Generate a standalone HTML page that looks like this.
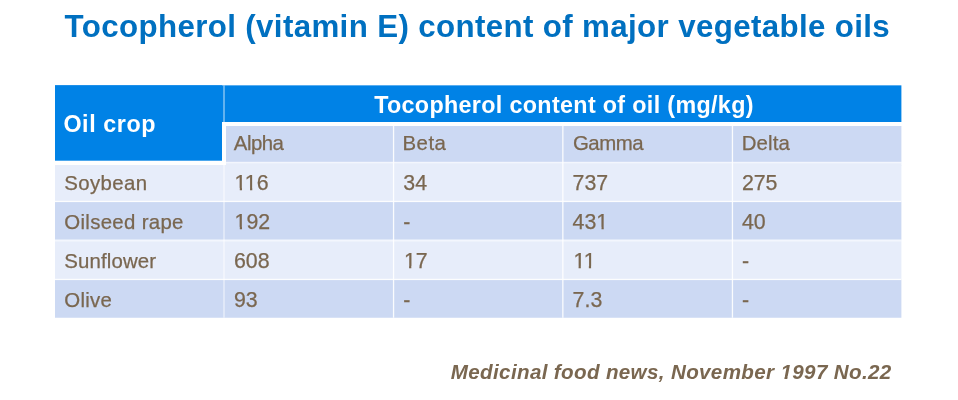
<!DOCTYPE html>
<html lang="en">
<head>
<meta charset="utf-8">
<title>Tocopherol (vitamin E) content of major vegetable oils</title>
<style>
html,body{margin:0;padding:0;background:#fff;}
body{width:958px;height:400px;position:relative;overflow:hidden;font-family:"Liberation Sans",Arial,sans-serif;}
#slide{position:absolute;left:0;top:0;width:958px;height:400px;will-change:transform;}
h1{position:absolute;left:0;top:0;margin:0;font-weight:bold;font-size:31.3px;letter-spacing:.356px;line-height:36px;color:#0070c0;white-space:nowrap;}
.t{position:absolute;white-space:nowrap;font-size:21.33px;line-height:24px;color:#7a6750;transform-origin:0 0;-webkit-text-stroke:.25px #7a6750;}
.w{font-size:20.4px;}
.th{position:absolute;white-space:nowrap;font-size:23.3px;line-height:28px;transform-origin:0 0;color:#fff;font-weight:bold;}
.foot{position:absolute;white-space:nowrap;font-size:20.6px;letter-spacing:.347px;line-height:24px;font-weight:bold;font-style:italic;color:#7a6750;}
</style>
</head>
<body>
<div id="slide">
<h1 style="top:8.5px;left:64.62px">Tocopherol (vitamin E) content of major vegetable oils</h1>

<!-- table backgrounds + grid lines -->
<svg class="grid" width="958" height="400" viewBox="0 0 958 400" style="position:absolute;left:0;top:0">
  <rect x="55" y="85.35" width="846.4" height="36.65" fill="#0082e6"/>
  <rect x="55" y="85.35" width="167" height="75.35" fill="#0082e6"/>
  <rect x="226" y="126" width="675.4" height="35.9" fill="#ccd9f3"/>
  <rect x="226" y="161.9" width="675.4" height="4" fill="#e7edfa"/>
  <rect x="55" y="165" width="846.4" height="36.4" fill="#e7edfa"/>
  <rect x="55" y="201.4" width="846.4" height="38.35" fill="#ccd9f3"/>
  <rect x="55" y="239.75" width="846.4" height="39.65" fill="#e7edfa"/>
  <rect x="55" y="279.4" width="846.4" height="38.35" fill="#ccd9f3"/>
  <!-- horizontal rules -->
  <rect x="226" y="162" width="675.4" height="1.4" fill="#fff" fill-opacity=".5"/>
  <rect x="55" y="200.8" width="846.4" height="1.3" fill="#fff" fill-opacity=".9"/>
  <rect x="55" y="239.75" width="846.4" height="1.8" fill="#fff" fill-opacity=".5"/>
  <rect x="55" y="278.8" width="846.4" height="1.3" fill="#fff" fill-opacity=".9"/>
  <!-- vertical rules -->
  <rect x="223.3" y="85.35" width="1.4" height="36.65" fill="#fff" fill-opacity=".55"/>
  <rect x="223.2" y="165" width="1.6" height="152.75" fill="#fff" fill-opacity=".5"/>
  <rect x="392.9" y="126" width="1.3" height="191.75" fill="#fff" fill-opacity=".9"/>
  <rect x="562.2" y="126" width="1.3" height="191.75" fill="#fff" fill-opacity=".9"/>
  <rect x="731.8" y="126" width="1.3" height="191.75" fill="#fff" fill-opacity=".9"/>
</svg>

<!-- header text -->
<div class="th" style="left:63.4px;top:109px;letter-spacing:.571px;transform:translateY(1.3px) scaleY(.9999)">Oil crop</div>
<div class="th" style="left:374.15px;top:91px;letter-spacing:.341px;transform:translateY(-.35px) scaleY(.9999)">Tocopherol content of oil (mg/kg)</div>

<div class="t w" style="left:233.82px;top:131px;letter-spacing:-0.519px">Alpha</div>
<div class="t w" style="left:402.4px;top:131px;letter-spacing:0.533px">Beta</div>
<div class="t w" style="left:572.92px;top:131px;letter-spacing:-0.462px">Gamma</div>
<div class="t w" style="left:741.7px;top:131px;letter-spacing:0.162px">Delta</div>

<div class="t w" style="left:64.15px;top:171px;letter-spacing:0.417px">Soybean</div>
<div class="t" style="left:234.6px;top:171px">116</div>
<div class="t" style="left:403.3px;top:171px">34</div>
<div class="t" style="left:572.6px;top:171px">737</div>
<div class="t" style="left:741.9px;top:171px">275</div>

<div class="t w" style="left:64.32px;top:210px;letter-spacing:0.318px">Oilseed rape</div>
<div class="t" style="left:234.6px;top:210px">192</div>
<div class="t" style="left:403.3px;top:210px">-</div>
<div class="t" style="left:572.6px;top:210px">431</div>
<div class="t" style="left:741.9px;top:210px">40</div>

<div class="t w" style="left:64.25px;top:249px;letter-spacing:0.144px">Sunflower</div>
<div class="t" style="left:234.0px;top:249px">608</div>
<div class="t" style="left:403.9px;top:249px">17</div>
<div class="t" style="left:573.4px;top:249px">11</div>
<div class="t" style="left:741.9px;top:249px">-</div>

<div class="t w" style="left:64.32px;top:288px;letter-spacing:0.262px">Olive</div>
<div class="t" style="left:234.0px;top:288px">93</div>
<div class="t" style="left:403.3px;top:288px">-</div>
<div class="t" style="left:572.6px;top:288px">7.3</div>
<div class="t" style="left:741.9px;top:288px">-</div>

<div class="foot" style="left:450.82px;top:360px">Medicinal food news, November 1997 No.22</div>
<!-- background-coloured patches that hide the serif foot of Liberation Sans' digit 1 (the original face has a plain 1) -->
<svg width="958" height="400" viewBox="0 0 958 400" style="position:absolute;left:0;top:0;pointer-events:none">
  <rect x="235.22" y="187.91" width="4.57" height="3.19" fill="#e7edfa"/>
  <rect x="242.01" y="187.91" width="4.40" height="3.19" fill="#e7edfa"/>
  <rect x="245.48" y="187.91" width="4.57" height="3.19" fill="#e7edfa"/>
  <rect x="252.28" y="187.91" width="4.40" height="3.19" fill="#e7edfa"/>
  <rect x="235.22" y="226.91" width="4.57" height="3.19" fill="#ccd9f3"/>
  <rect x="242.01" y="226.91" width="4.40" height="3.19" fill="#ccd9f3"/>
  <rect x="596.94" y="226.91" width="4.57" height="3.19" fill="#ccd9f3"/>
  <rect x="603.73" y="226.91" width="4.40" height="3.19" fill="#ccd9f3"/>
  <rect x="404.52" y="265.91" width="4.57" height="3.19" fill="#e7edfa"/>
  <rect x="411.31" y="265.91" width="4.40" height="3.19" fill="#e7edfa"/>
  <rect x="574.02" y="265.91" width="4.57" height="3.19" fill="#e7edfa"/>
  <rect x="580.81" y="265.91" width="4.40" height="3.19" fill="#e7edfa"/>
  <rect x="584.28" y="265.91" width="4.57" height="3.19" fill="#e7edfa"/>
  <rect x="591.08" y="265.91" width="4.40" height="3.19" fill="#e7edfa"/>
  <polygon points="779.81,379.50 780.24,375.92 784.88,375.92 784.25,379.50" fill="#fff"/>
  <polygon points="787.79,375.92 791.84,375.92 791.40,379.50 787.19,379.50" fill="#fff"/>
</svg>
</div>
</body>
</html>
